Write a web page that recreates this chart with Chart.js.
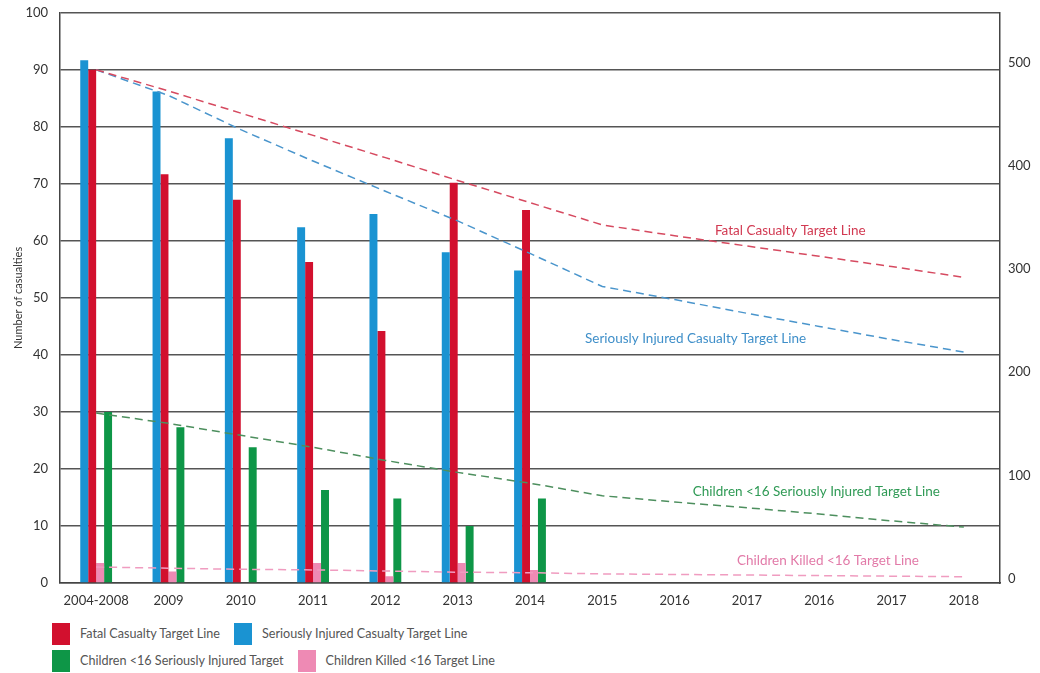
<!DOCTYPE html>
<html>
<head>
<meta charset="utf-8">
<script src="https://cdn.jsdelivr.net/npm/chart.js@4.4.1/dist/chart.umd.min.js"></script>
<style>
  html, body { margin: 0; padding: 0; background: #fff; }
  #wrap { position: relative; width: 1040px; height: 673px; overflow: hidden; }
  #box { position: absolute; left: 0; top: -7px; width: 1040px; height: 619px; }
  #legend { position: absolute; left: 52px; top: 620px; font: 12.6px Lato, sans-serif; color: #555; }
  .row { height: 27px; display: flex; align-items: center; }
  .item { display: flex; align-items: center; margin-right: 14px; }
  .sw { width: 18px; height: 22px; margin-right: 10px; }
</style>
</head>
<body>
<div id="wrap">
  <div id="box"><canvas id="myChart"></canvas></div>
  <div id="legend"></div>
</div>
<script>
const years = ['2004-2008', '2009', '2010', '2011', '2012', '2013', '2014', '2015', '2016', '2017', '2016', '2017', '2018']

// bars
const seriouslyInjured = [91.7, 86.2, 78, 62.4, 64.7, 58, 54.8, null, null, null, null, null, null]
const fatal = [90, 71.7, 67.2, 56.3, 44.2, 70.2, 65.4, null, null, null, null, null, null]
const childrenKilled = [3.5, 2, 0, 3.5, 1.2, 3.5, 2.3, null, null, null, null, null, null]
const childrenSerious = [30, 27.3, 23.8, 16.3, 14.8, 10, 14.8, null, null, null, null, null, null]

// target lines
const fatalTarget = [90, 86.3, 82.4, 78.5, 74.6, 70.6, 66.7, 62.8, 60.9, 59.1, 57.3, 55.5, 53.6]
const seriousTarget = [90, 85.5, 79.5, 74, 68.7, 63.5, 57.8, 52, 49.7, 47.3, 45, 42.7, 40.5]
const childSeriousTarget = [29.8, 28, 25.9, 23.8, 21.5, 19.4, 17.5, 15.3, 14.2, 13.2, 12.1, 10.9, 9.8]
const childKilledTarget = [2.8, 2.6, 2.4, 2.3, 2.1, 1.9, 1.8, 1.6, 1.5, 1.4, 1.3, 1.2, 1.1]

const leftTicks = [0, 10, 20, 30, 40, 50, 60, 70, 80, 90, 100]
const rightTicks = [0, 100, 200, 300, 400, 500]

const legendLabels = ['Fatal Casualty Target Line', 'Seriously Injured Casualty Target Line', 'Children <16 Seriously Injured Target', 'Children Killed <16 Target Line']

const red = '#d2102e'
const blue = '#1a93d2'
const green = '#0e9647'
const pink = '#ee8ab4'
const font = 'Lato, sans-serif'

// line captions drawn on the plot
const captions = [
    {text: 'Fatal Casualty Target Line', x: 9.6, y: 61.8, color: '#d23a52'},
    {text: 'Seriously Injured Casualty Target Line', x: 8.29, y: 42.9, color: '#3f8fc9'},
    {text: 'Children <16 Seriously Injured Target Line', x: 9.96, y: 16.1, color: '#2f9a55'},
    {text: 'Children Killed <16 Target Line', x: 10.12, y: 3.85, color: '#e27aa8'}
]

const captionPlugin = {
    id: 'captions',
    afterDatasetsDraw(chart) {
        const c = chart.ctx
        const xs = chart.scales.x
        const ys = chart.scales.y
        c.save()
        c.font = '13.5px ' + font
        c.textAlign = 'center'
        c.textBaseline = 'middle'
        captions.forEach(cap => {
            c.fillStyle = cap.color
            c.fillText(cap.text, xs.getPixelForValue(cap.x), ys.getPixelForValue(cap.y))
        })
        c.restore()
    }
}

const barDs = (label, data, color) => ({
    type: 'bar', label, data, backgroundColor: color,
    barPercentage: 1, categoryPercentage: 0.44, order: 2
})
const lineDs = (label, data, color) => ({
    type: 'line', label, data, borderColor: color, borderWidth: 1.5,
    borderDash: [8, 5], pointRadius: 0, fill: false, tension: 0, order: 1
})

const ctx = document.getElementById('myChart').getContext('2d')
const chart = new Chart(ctx, {
    data: {
        labels: years,
        datasets: [
            barDs('Seriously Injured', seriouslyInjured, blue),
            barDs('Fatal', fatal, red),
            barDs('Children Killed <16', childrenKilled, pink),
            barDs('Children <16 Seriously Injured', childrenSerious, green),
            lineDs('Fatal Casualty Target Line', fatalTarget, '#d64a60'),
            lineDs('Seriously Injured Casualty Target Line', seriousTarget, '#4a95cc'),
            lineDs('Children <16 Seriously Injured Target Line', childSeriousTarget, '#4d8f5e'),
            lineDs('Children Killed <16 Target Line', childKilledTarget, '#f09cc0')
        ]
    },
    options: {
        responsive: true,
        maintainAspectRatio: false,
        animation: false,
        layout: {padding: {top: 5, left: 0, right: 0, bottom: 0}},
        plugins: {legend: {display: false}, tooltip: {enabled: false}},
        scales: {
            x: {
                offset: true,
                grid: {display: false},
                border: {color: '#444', width: 1.5},
                ticks: {color: '#333', font: {family: font, size: 13}, padding: 2, maxRotation: 0, autoSkip: false},
                afterFit(s) { s.height = 29 }
            },
            y: {
                position: 'left',
                min: 0, max: 100,
                afterBuildTicks(s) { s.ticks = leftTicks.map(v => ({value: v})) },
                grid: {color: '#555', lineWidth: 1.5, drawTicks: false},
                border: {color: '#444', width: 1.5},
                ticks: {color: '#333', font: {family: font, size: 13}, padding: 12},
                title: {display: true, text: 'Number of casualties', color: '#333', font: {family: font, size: 11}, padding: {top: 12, bottom: 0}},
                afterFit(s) { s.width = 60 }
            },
            y2: {
                position: 'right',
                min: -4, max: 548,
                afterBuildTicks(s) { s.ticks = rightTicks.map(v => ({value: v})) },
                grid: {drawOnChartArea: false, drawTicks: false},
                border: {color: '#444', width: 1.5},
                ticks: {color: '#333', font: {family: font, size: 13}, padding: 8},
                afterFit(s) { s.width = 40 }
            }
        }
    },
    plugins: [captionPlugin]
})

// legend below the chart
const legendColors = [red, blue, green, pink]
const legendBox = document.getElementById('legend')
const rows = [[0, 1], [2, 3]]
rows.forEach(r => {
    const row = document.createElement('div')
    row.className = 'row'
    r.forEach(i => {
        row.innerHTML += `<div class="item"><div class="sw" style="background:${legendColors[i]}"></div><span>${legendLabels[i]}</span></div>`
    })
    legendBox.appendChild(row)
})
</script>
</body>
</html>
